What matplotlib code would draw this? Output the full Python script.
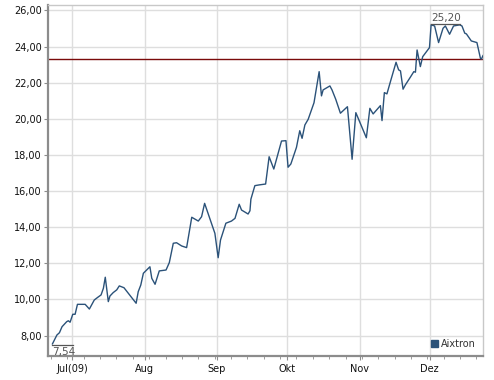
import matplotlib
matplotlib.use("Agg")
import matplotlib.pyplot as plt
from matplotlib.patches import Patch
from matplotlib.ticker import FixedLocator, MultipleLocator, FuncFormatter

# Day offsets relative to 1 July 2009 and closing prices (EUR) of Aixtron
days = [-8.4, -6.5, -5.4, -4.3, -2.3, -1.6, -0.85, 0.3, 1.3, 2.3, 5.6, 7.4, 9.5, 11.0,
        12.4, 13.4, 14.2, 15.5, 16.2, 17.6, 19.1, 20.2, 22.2, 27.4, 28.3, 29.4, 30.5,
        33.3, 34.1, 35.5, 37.3, 40.2, 41.6, 43.3, 44.7, 46.9, 49.0, 51.2, 54.0, 55.4,
        56.7, 61.1, 62.5, 63.5, 65.8, 68.2, 69.7, 71.5, 72.5, 75.3, 76.1, 76.5, 78.2,
        80.0, 82.8, 84.3, 86.3, 89.6, 91.5, 92.4, 93.6, 96.0, 97.4, 98.4, 99.6, 101.0,
        103.5, 105.7, 106.7, 107.4, 110.3, 111.2, 112.8, 114.8, 117.8, 119.8, 121.4,
        125.9, 127.4, 128.8, 131.9, 132.6, 133.6, 134.7, 136.2, 138.6, 139.7, 140.5,
        141.6, 142.6, 144.7, 146.2, 146.9, 147.6, 149.0, 150.0, 152.9, 153.6, 155.1,
        156.8, 158.7, 159.7, 161.5, 163.2, 165.8, 166.8, 168.0, 168.7, 170.8, 173.2,
        174.7, 175.1, 175.8]
prices = [7.54, 8.03, 8.16, 8.49, 8.77, 8.82, 8.74, 9.18, 9.18, 9.73, 9.73, 9.47, 9.97,
          10.12, 10.25, 10.62, 11.23, 9.88, 10.19, 10.38, 10.53, 10.75, 10.65, 9.79,
          10.43, 10.80, 11.45, 11.81, 11.17, 10.84, 11.58, 11.63, 12.04, 13.11, 13.14,
          12.96, 12.87, 14.55, 14.34, 14.58, 15.32, 13.66, 12.31, 13.29, 14.22, 14.34,
          14.49, 15.27, 14.95, 14.73, 14.91, 15.55, 16.30, 16.34, 16.39, 17.90, 17.22,
          18.77, 18.79, 17.32, 17.50, 18.42, 19.34, 18.92, 19.66, 19.97, 20.89, 22.61,
          21.27, 21.60, 21.82, 21.60, 21.08, 20.31, 20.67, 17.76, 20.34, 18.95, 20.58,
          20.27, 20.73, 19.90, 21.45, 21.38, 22.06, 23.13, 22.71, 22.65, 21.64, 21.88,
          22.30, 22.61, 22.58, 23.81, 22.89, 23.44, 23.94, 25.20, 25.14, 24.22, 25.01,
          25.14, 24.68, 25.14, 25.20, 25.14, 24.74, 24.70, 24.31, 24.22, 23.35, 23.30,
          23.50]

month_days = [0, 31, 62, 92, 123, 153]
month_labels = ["Jul(09)", "Aug", "Sep", "Okt", "Nov", "Dez"]
y_ticks = [8, 10, 12, 14, 16, 18, 20, 22, 24, 26]
ref_level = 23.30
series_name = "Aixtron"
min_label = "7,54"
max_label = "25,20"

line_color = "#2b5279"
plt.rcParams["font.family"] = ["DejaVu Sans"]

fig = plt.figure(figsize=(4.94, 3.80), dpi=100)
ax = fig.add_axes([48 / 494, 24 / 380, 435 / 494, 351 / 380])

ax.plot(days, prices, color=line_color, lw=1.0, zorder=3)
ax.axhline(ref_level, color="#7a0a0a", lw=1.0, zorder=2)

ax.set_xlim(-10.3, 175.8)
ax.set_ylim(6.87, 26.30)

ax.yaxis.set_major_locator(FixedLocator(y_ticks))
ax.yaxis.set_major_formatter(FuncFormatter(lambda v, p: f"{v:.2f}".replace(".", ",")))
ax.set_xticks(month_days)
ax.set_xticklabels(month_labels)
ax.xaxis.set_minor_locator(FixedLocator([d for d in range(-9, 176, 7)]))

ax.grid(True, which="major", color="#dedede", lw=1.0, zorder=0)
ax.set_axisbelow(True)

for s in ["top", "right"]:
    ax.spines[s].set_color("#c8c8c8")
    ax.spines[s].set_linewidth(1.0)
for s in ["left", "bottom"]:
    ax.spines[s].set_color("#8c8c8c")
    ax.spines[s].set_linewidth(1.6)

ax.tick_params(axis="y", which="major", length=3, width=0.8, color="#8c8c8c",
               labelsize=7, pad=1.5, labelcolor="#111111")
ax.tick_params(axis="x", which="major", length=3, width=0.8, color="#8c8c8c",
               labelsize=7, pad=2.5, labelcolor="#111111")
ax.tick_params(axis="x", which="minor", length=2, width=0.6, color="#8c8c8c")

# min / max annotations
imin = prices.index(min(prices))
imax = prices.index(max(prices))
ax.annotate(min_label, xy=(days[imin], prices[imin]), xytext=(0, -2.5),
            textcoords="offset points", ha="left", va="top", fontsize=7.5,
            color="#555555", zorder=4)
ax.plot([days[imin], days[imin] + 9.0], [prices[imin] - 0.05] * 2,
        color="#555555", lw=0.9, zorder=4)
ax.annotate(max_label, xy=(days[imax], prices[imax]), xytext=(0, 1.5),
            textcoords="offset points", ha="left", va="bottom", fontsize=7.5,
            color="#555555", zorder=4)
ax.plot([days[imax], days[imax] + 12.5], [prices[imax] + 0.05] * 2,
        color="#555555", lw=0.9, zorder=4)

leg = ax.legend(handles=[Patch(facecolor=line_color, edgecolor=line_color, label=series_name)],
                loc="lower right", frameon=False, fontsize=7, handlelength=0.75,
                handleheight=0.75, handletextpad=0.35, borderaxespad=0.3)
for t in leg.get_texts():
    t.set_color("#333333")

fig.savefig("out.png", dpi=100)
